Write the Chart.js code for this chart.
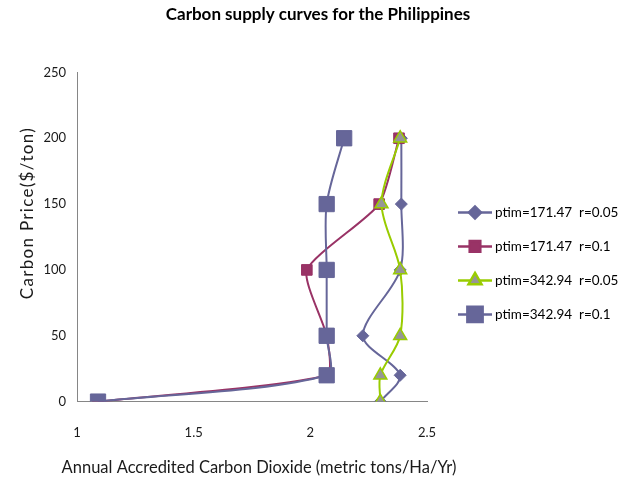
<!DOCTYPE html>
<html>
<head>
<meta charset="utf-8">
<title>Carbon supply curves for the Philippines</title>
<script src="https://cdn.jsdelivr.net/npm/chart.js@4.4.1/dist/chart.umd.min.js"></script>
<style>
    html, body { margin: 0; padding: 0; background: #ffffff; }
    #wrap { width: 636px; height: 487px; }
</style>
</head>
<body>
<div id="wrap"><canvas id="supplyChart" width="636" height="487"></canvas></div>
<script>
// Carbon price levels ($/ton) - same for every curve
const prices = [0, 20, 50, 100, 150, 200];

// Accredited CO2 (metric tons/Ha/Yr) for each curve
const ptim171r005 = [2.30, 2.385, 2.225, 2.385, 2.39, 2.39];
const ptim171r01 = [1.09, 2.07, 2.07, 1.985, 2.295, 2.38];
const ptim343r005 = [2.30, 2.30, 2.385, 2.385, 2.305, 2.385];
const ptim343r01 = [1.09, 2.07, 2.07, 2.07, 2.07, 2.145];

const seriesNames = ['ptim=171.47  r=0.05', 'ptim=171.47  r=0.1', 'ptim=342.94  r=0.05', 'ptim=342.94  r=0.1'];

// x ticks shown on the axis
const xTicks = [1, 1.5, 2, 2.5];

// Turn an x array into scatter points against the prices
function toPoints(xs) {
    return xs.map((x, i) => ({ x: x, y: prices[i] }));
}

const font = 'Lato, "Liberation Sans", sans-serif';

// Wrap an axis title draw: letter spacing, a shift, and extra room on the sides
// (the x title is wider than the plot, so Chart.js would squeeze it)
function spacedTitle(spacing, dy, growLeft, growRight) {
    return axis => {
        if (axis._spaced) return;
        const orig = axis.drawTitle.bind(axis);
        axis.drawTitle = function () {
            const l = this.left, r = this.right;
            this.left = l - growLeft;
            this.right = r + growRight;
            this.ctx.save();
            this.ctx.letterSpacing = spacing;
            this.ctx.translate(0, dy);
            orig();
            this.ctx.restore();
            this.left = l;
            this.right = r;
        };
        axis._spaced = true;
    };
}

// Legend drawn at the right of the plot: line + marker + label
const sideLegend = {
    id: 'sideLegend',
    afterLayout(chart) {
        // centre the chart title over the whole canvas, not just the plot
        const t = chart.titleBlock;
        if (t) {
            t.left = 0;
            t.right = chart.width;
            t.width = chart.width;
        }
    },
    afterDraw(chart) {
        const ctx = chart.ctx;
        const area = chart.chartArea;
        const x0 = area.right + 31;
        let y = area.top + 140;
        ctx.save();
        chart.data.datasets.forEach(ds => {
            ctx.strokeStyle = ds.borderColor;
            ctx.lineWidth = 2.5;
            ctx.beginPath();
            ctx.moveTo(x0, y);
            ctx.lineTo(x0 + 34, y);
            ctx.stroke();
            ctx.fillStyle = ds.backgroundColor;
            ctx.strokeStyle = ds.pointBorderColor || ds.borderColor;
            Chart.helpers.drawPoint(ctx, {
                pointStyle: ds.pointStyle,
                radius: ds.pointRadius,
                rotation: 0,
                borderWidth: ds.pointBorderWidth
            }, x0 + 17, y);
            ctx.fillStyle = '#000000';
            ctx.font = '13.5px ' + font;
            ctx.textBaseline = 'middle';
            ctx.fillText(ds.label, x0 + 37, y);
            y += 34;
        });
        ctx.restore();
    }
};

const supplyChart = new Chart(document.getElementById('supplyChart').getContext('2d'), {
    type: 'scatter',
    data: {
        datasets: [{
            label: seriesNames[0],
            data: toPoints(ptim171r005),
            showLine: true,
            borderColor: '#666699',
            backgroundColor: '#666699',
            borderWidth: 2,
            pointStyle: 'rectRot',
            pointRadius: 6,
            pointBorderWidth: 1,
            tension: 0.3,
            order: 4
        }, {
            label: seriesNames[1],
            data: toPoints(ptim171r01),
            showLine: true,
            borderColor: '#993366',
            backgroundColor: '#993366',
            borderWidth: 2,
            pointStyle: 'rect',
            pointRadius: 7.5,
            pointBorderWidth: 1,
            tension: 0.2,
            order: 3
        }, {
            label: seriesNames[2],
            data: toPoints(ptim343r005),
            showLine: true,
            borderColor: '#99cc00',
            backgroundColor: '#969696',
            pointBorderColor: '#99cc00',
            borderWidth: 2,
            pointStyle: 'triangle',
            pointRadius: 7.5,
            pointBorderWidth: 1.5,
            tension: 0.3,
            order: 2
        }, {
            label: seriesNames[3],
            data: toPoints(ptim343r01),
            showLine: true,
            borderColor: '#666699',
            backgroundColor: '#666699',
            borderWidth: 2,
            pointStyle: 'rect',
            pointRadius: 10.8,
            pointBorderWidth: 1,
            tension: 0.3,
            order: 1
        }]
    },
    options: {
        responsive: false,
        animation: false,
        layout: { padding: { left: 0, right: 209, top: 0, bottom: 0 } },
        plugins: {
            title: {
                display: true,
                text: 'Carbon supply curves for the Philippines',
                color: '#000000',
                font: { family: font, size: 17, weight: 'bold' },
                padding: { top: 4, bottom: 48 }
            },
            legend: { display: false },
            tooltip: { enabled: false }
        },
        scales: {
            x: {
                type: 'linear',
                min: 1,
                max: 2.5,
                afterBuildTicks: axis => { axis.ticks = xTicks.map(v => ({ value: v })); },
                grid: { display: false, drawTicks: true, tickLength: 20 },
                border: { color: '#868686', width: 1 },
                ticks: {
                    color: '#1a1a1a',
                    font: { family: font, size: 13 },
                    padding: 3,
                    callback: v => String(v)
                },
                title: {
                    display: true,
                    text: 'Annual Accredited Carbon Dioxide (metric tons/Ha/Yr)',
                    color: '#1a1a1a',
                    font: { family: font, size: 16.5 },
                    padding: { top: 15, bottom: 9 }
                },
                afterUpdate: spacedTitle('0px', 0, 23, 37)
            },
            y: {
                min: 0,
                max: 250,
                ticks: {
                    stepSize: 50,
                    color: '#1a1a1a',
                    font: { family: font, size: 13 },
                    padding: 2
                },
                grid: { display: false, drawTicks: true, tickLength: 9 },
                border: { color: '#868686', width: 1 },
                title: {
                    display: true,
                    text: 'Carbon Price($/ton)',
                    color: '#1a1a1a',
                    font: { family: font, size: 17 },
                    padding: { top: 17, bottom: 4 }
                },
                // spaced-out letters on the y title, sitting a bit above centre
                afterUpdate: spacedTitle('1.3px', -24, 0, 0)
            }
        }
    },
    plugins: [sideLegend]
});
</script>
</body>
</html>
